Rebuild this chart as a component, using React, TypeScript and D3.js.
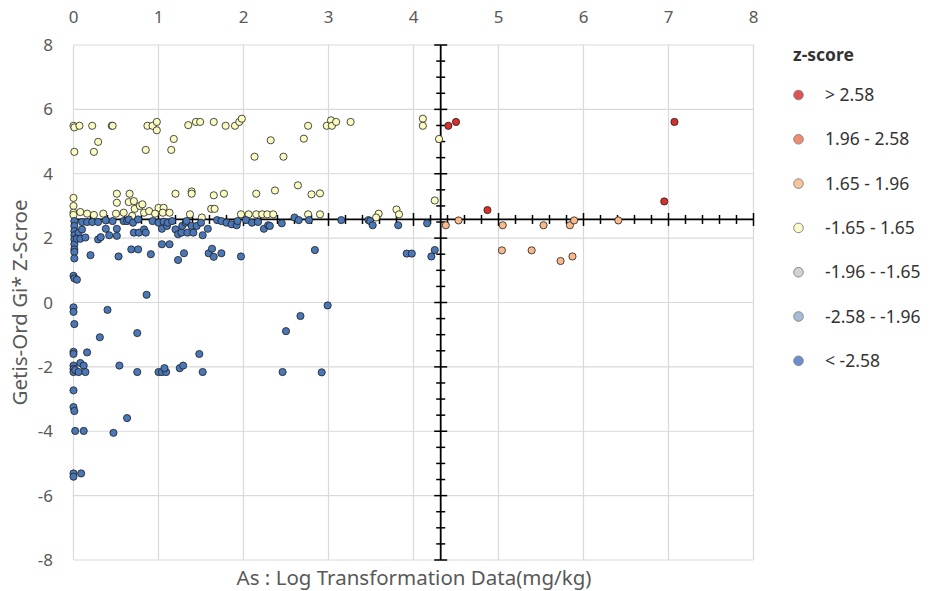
import React from 'react';
import * as d3 from 'd3';

// z-score classes as [x, y]
const redPts: [number, number][] = [
  [4.41, 5.49], [4.5, 5.61], [7.07, 5.61], [6.95, 3.14], [4.87, 2.87],
];

const orangePts: [number, number][] = [
  [4.38, 2.4], [4.53, 2.55], [5.05, 2.4], [5.53, 2.4], [5.84, 2.4], [5.89, 2.55],
  [6.41, 2.55], [5.04, 1.62], [5.39, 1.62], [5.73, 1.29], [5.87, 1.43],
];

const yellowPts: [number, number][] = [
  // top band
  [0, 5.49], [0.01, 5.44], [0.07, 5.49], [0.22, 5.49], [0.45, 5.49], [0.46, 5.49],
  [0.01, 4.68], [0.24, 4.68], [0.29, 4.99], [0.85, 4.74], [0.87, 5.49], [0.93, 5.49],
  [0.98, 5.61], [0.98, 5.35], [1.15, 4.74], [1.18, 5.08], [1.35, 5.51], [1.44, 5.61],
  [1.49, 5.61], [1.65, 5.61], [1.79, 5.49], [1.9, 5.49], [1.95, 5.61], [1.98, 5.71],
  [2.13, 4.53], [2.32, 5.04], [2.47, 4.53], [2.71, 5.09], [2.76, 5.49], [2.98, 5.49],
  [3.03, 5.66], [3.04, 5.49], [3.09, 5.61], [3.26, 5.61], [4.11, 5.71], [4.11, 5.49],
  [4.3, 5.08],
  // middle band
  [0, 3.25], [0, 3.0], [0.51, 3.38], [0.51, 3.1], [0.66, 3.38], [0.65, 3.12],
  [0.71, 3.15], [0.72, 2.91], [0.78, 3.0], [0.81, 3.05], [1.0, 2.94], [1.06, 2.94],
  [1.2, 3.38], [1.39, 3.45], [1.39, 3.38], [1.65, 3.33], [1.77, 3.38], [2.15, 3.38],
  [2.37, 3.48], [2.64, 3.64], [2.8, 3.36], [2.9, 3.39], [4.25, 3.17], [3.8, 2.89],
  [1.62, 2.91], [1.66, 2.91],
  // just above the crossing line
  [0, 2.79], [0, 2.72], [0.08, 2.81], [0.16, 2.76], [0.24, 2.72], [0.35, 2.76],
  [0.5, 2.76], [0.59, 2.79], [0.69, 2.69], [0.83, 2.79], [0.89, 2.84], [0.96, 2.76],
  [1.05, 2.79], [1.13, 2.79], [1.37, 2.74], [1.51, 2.64], [1.97, 2.74], [2.06, 2.74],
  [2.15, 2.74], [2.22, 2.74], [2.28, 2.74], [2.35, 2.74], [2.76, 2.74], [2.9, 2.74],
  [3.59, 2.76], [3.56, 2.64], [3.83, 2.74],
];

const bluePts: [number, number][] = [
  // column at x = 0
  [0.01, 2.53], [0.01, 2.38], [0.01, 2.22], [0.01, 2.09], [0.01, 1.96], [0.01, 1.81],
  [0.01, 1.65], [0.01, 1.57], [0.01, 1.37], [0, 0.83], [0.01, 0.75], [0.04, 0.71],
  [0, -0.15], [0, -0.29], [0.01, -0.67], [0, -1.53], [0, -1.6], [0, -1.96],
  [0, -2.06], [0, -2.16], [0.02, -2.1], [0.06, -2.16], [0.08, -1.88], [0.12, -1.96],
  [0.14, -2.16], [0, -2.73], [0, -3.25], [0.01, -3.37], [0.02, -3.99], [0.12, -3.99],
  [0, -5.31], [0, -5.41], [0.09, -5.31],
  // lower scatter
  [0.4, -0.23], [0.31, -1.08], [0.75, -0.95], [0.16, -1.55], [0.54, -1.96], [0.75, -2.16],
  [1.0, -2.16], [1.04, -2.16], [1.09, -2.16], [1.07, -2.04], [1.25, -2.04], [1.29, -1.96],
  [1.48, -1.6], [1.52, -2.16], [0.63, -3.59], [0.47, -4.05], [2.46, -2.16], [2.5, -0.89],
  [2.67, -0.42], [2.99, -0.09], [2.92, -2.17], [0.86, 0.24],
  // band under the crossing line
  [0.06, 2.17], [0.04, 1.98], [0.08, 1.98], [0.14, 2.02], [0.1, 2.5], [0.16, 2.5],
  [0.22, 2.5], [0.29, 2.5], [0.1, 2.27], [0.2, 1.47], [0.29, 1.96], [0.32, 2.03],
  [0.38, 2.55], [0.38, 2.29], [0.42, 2.09], [0.46, 2.53], [0.51, 2.29], [0.51, 2.07],
  [0.53, 1.43], [0.59, 2.53], [0.63, 2.53], [0.65, 2.58], [0.7, 2.48], [0.76, 2.58],
  [0.68, 1.65], [0.76, 1.65], [0.71, 2.17], [0.77, 2.17], [0.83, 2.27], [0.85, 2.17],
  [0.91, 1.5], [0.93, 2.53], [1.0, 2.48], [1.04, 2.29], [1.04, 1.81], [1.13, 1.81],
  [1.06, 2.51], [1.1, 2.38], [1.11, 2.48], [1.16, 2.53], [1.2, 2.27], [1.23, 2.12],
  [1.23, 1.32], [1.27, 2.17], [1.28, 2.38], [1.32, 2.48], [1.33, 2.53], [1.3, 1.53],
  [1.34, 2.17], [1.39, 2.38], [1.45, 2.38], [1.5, 2.48], [1.41, 2.17], [1.52, 2.09],
  [1.58, 2.29], [1.59, 1.53], [1.63, 1.67], [1.65, 1.42], [1.74, 1.53], [1.69, 2.56],
  [1.74, 2.53], [1.8, 2.48], [1.86, 2.43], [1.92, 2.4], [1.93, 2.53], [1.97, 1.43],
  [2.03, 2.56], [2.1, 2.48], [2.17, 2.5], [2.24, 2.29], [2.29, 2.4], [2.31, 2.38],
  [2.45, 2.46], [2.6, 2.64], [2.65, 2.56], [2.77, 2.56], [2.84, 1.63], [3.15, 2.56],
  [3.47, 2.56], [3.49, 2.53], [3.52, 2.4], [3.82, 2.4], [3.92, 1.52], [3.98, 1.52],
  [4.16, 2.46], [4.25, 1.63], [4.21, 1.43],
];

const xTicks = [0, 1, 2, 3, 4, 5, 6, 7, 8];
const yTicks = [8, 6, 4, 2, 0, -2, -4, -6, -8];
// where the two black axes cross
const crossX = 4.32;
const crossY = 2.58;

const legendTitle = 'z-score';
const legendLabels = ['> 2.58', '1.96 - 2.58', '1.65 - 1.96', '-1.65 - 1.65', '-1.96 - -1.65', '-2.58 - -1.96', '< -2.58'];
const legendColors = ['#e05252', '#f08c72', '#f9c49c', '#fafaca', '#d2d3cf', '#a6bcd9', '#6a8ecf'];

const xTitle = 'As : Log Transformation Data(mg/kg)';
const yTitle = 'Getis-Ord Gi* Z-Scroe';

export default function App() {
  const W = 930, H = 591;
  const x = d3.scaleLinear().domain([0, 8]).range([73.5, 753.5]);
  const y = d3.scaleLinear().domain([-8, 8]).range([560, 45]);
  const font = "'Noto Sans', 'Open Sans', sans-serif";
  const grey = '#595959';

  // minor ticks on the crossing axes
  const hTicks = d3.range(0, 8.0001, 0.2).map((v) => +v.toFixed(1));
  const vTicks = d3.range(-8, 8.0001, 0.5);

  const series = [
    { pts: yellowPts, fill: '#fbfbc2' },
    { pts: bluePts, fill: '#4a77b8' },
    { pts: orangePts, fill: '#f9b98b' },
    { pts: redPts, fill: '#d7302a' },
  ];

  return (
    <svg width={W} height={H} style={{ position: 'absolute', left: 0, top: 0, background: '#fff' }} fontFamily={font}>
      {/* grid */}
      {xTicks.map((t) => (
        <line key={'gx' + t} x1={x(t)} x2={x(t)} y1={y(8)} y2={y(-8)} stroke="#d9d9d9" strokeWidth={1.2} />
      ))}
      {yTicks.map((t) => (
        <line key={'gy' + t} x1={x(0)} x2={x(8)} y1={y(t)} y2={y(t)} stroke="#d9d9d9" strokeWidth={1.2} />
      ))}

      {/* tick labels */}
      {xTicks.map((t) => (
        <text key={'tx' + t} x={x(t)} y={23} textAnchor="middle" fontSize={17} fill={grey}>{t}</text>
      ))}
      {yTicks.map((t) => (
        <text key={'ty' + t} x={53} y={y(t) + 6} textAnchor="end" fontSize={17} fill={grey}>{t}</text>
      ))}

      {/* crossing axes */}
      <line x1={x(0)} x2={x(8)} y1={y(crossY)} y2={y(crossY)} stroke="#000" strokeWidth={1.8} />
      {hTicks.map((t) => {
        const major = Math.abs(t - Math.round(t)) < 1e-6;
        const len = major ? 6.5 : 4.5;
        return <line key={'ht' + t} x1={x(t)} x2={x(t)} y1={y(crossY) - len} y2={y(crossY) + len} stroke="#000" strokeWidth={1.5} />;
      })}
      <line x1={x(crossX)} x2={x(crossX)} y1={y(8)} y2={y(-8)} stroke="#000" strokeWidth={1.8} />
      {vTicks.map((t) => {
        const major = Math.abs(t % 2) < 1e-6;
        const len = major ? 6.5 : 4.5;
        return <line key={'vt' + t} x1={x(crossX) - len} x2={x(crossX) + len} y1={y(t)} y2={y(t)} stroke="#000" strokeWidth={1.5} />;
      })}

      {/* points */}
      {series.map((s, i) => (
        <g key={'s' + i}>
          {s.pts.map((d, j) => (
            <circle key={j} cx={x(d[0])} cy={y(d[1])} r={3.6} fill={s.fill} stroke="#1e1e1e" strokeWidth={0.8} />
          ))}
        </g>
      ))}

      {/* axis titles */}
      <text x={414} y={585} textAnchor="middle" fontSize={20.5} fill={grey}>{xTitle}</text>
      <text transform={`translate(27,${(y(8) + y(-8)) / 2}) rotate(-90)`} textAnchor="middle" fontSize={20.5} fill={grey}>{yTitle}</text>

      {/* legend */}
      <text x={793} y={61} fontSize={17.5} fontWeight="bold" fill="#333">{legendTitle}</text>
      {legendLabels.map((lab, i) => (
        <g key={'lg' + i} transform={`translate(0,${95 + i * 44.3})`}>
          <circle cx={798.5} cy={0} r={4.8} fill={legendColors[i]} stroke="#888" strokeWidth={1} />
          <text x={825} y={6} fontSize={17.5} fill="#333">{lab}</text>
        </g>
      ))}
    </svg>
  );
}
